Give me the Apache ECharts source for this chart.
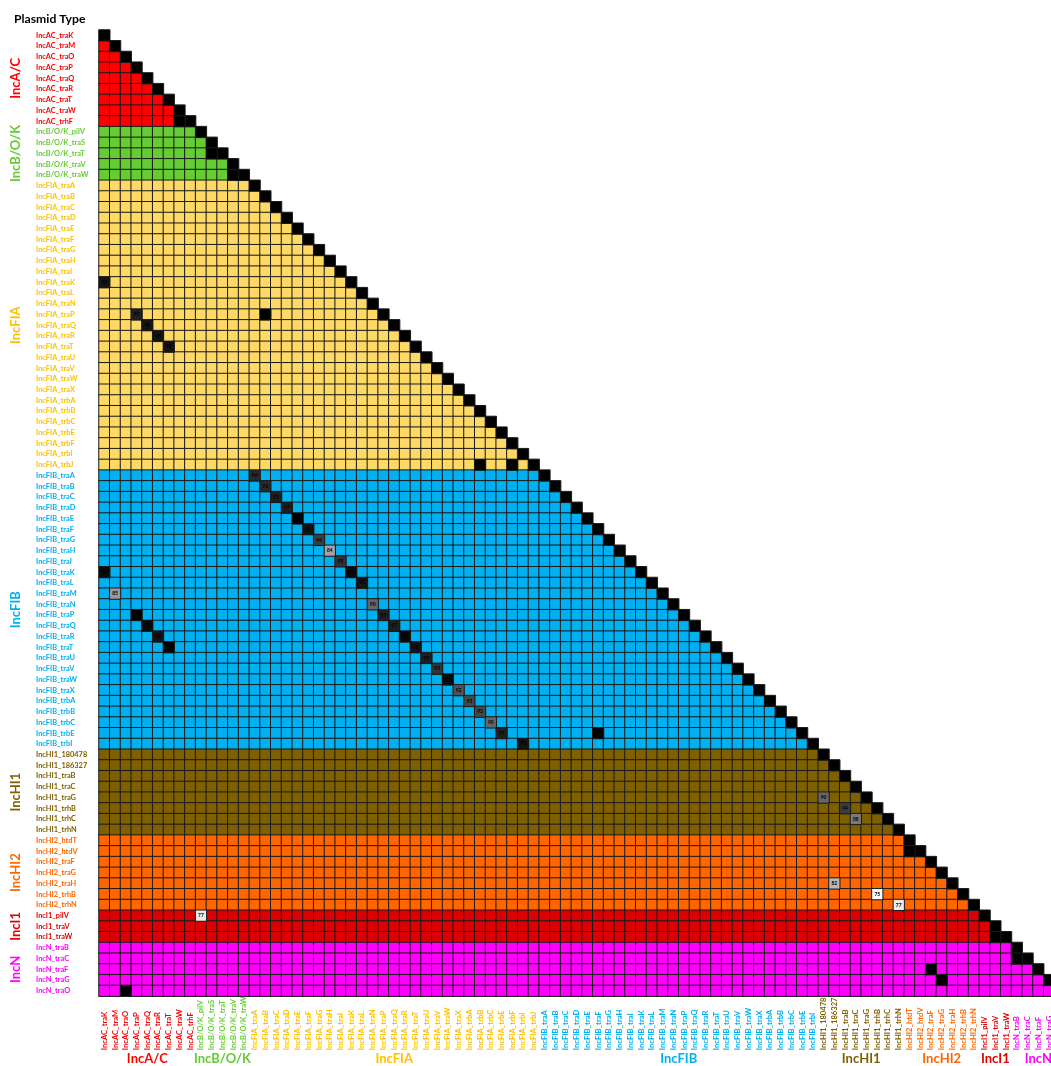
<!DOCTYPE html>
<html><head><meta charset="utf-8">
<script src="https://cdn.jsdelivr.net/npm/echarts@6/dist/echarts.min.js"></script>
<style>html,body{margin:0;padding:0;background:#fff}#c{width:1051px;height:1066px}</style>
</head><body><div id="c"></div>
<script>
// ---------------- data ----------------
const categories = [
  'IncAC_traK','IncAC_traM','IncAC_traO','IncAC_traP','IncAC_traQ','IncAC_traR','IncAC_traT','IncAC_traW','IncAC_trhF',
  'IncB/O/K_pilV','IncB/O/K_traS','IncB/O/K_traT','IncB/O/K_traV','IncB/O/K_traW',
  'IncFIA_traA','IncFIA_traB','IncFIA_traC','IncFIA_traD','IncFIA_traE','IncFIA_traF','IncFIA_traG','IncFIA_traH','IncFIA_traI',
  'IncFIA_traK','IncFIA_traL','IncFIA_traN','IncFIA_traP','IncFIA_traQ','IncFIA_traR','IncFIA_traT','IncFIA_traU','IncFIA_traV',
  'IncFIA_traW','IncFIA_traX','IncFIA_trbA','IncFIA_trbB','IncFIA_trbC','IncFIA_trbE','IncFIA_trbF','IncFIA_trbI','IncFIA_trbJ',
  'IncFIB_traA','IncFIB_traB','IncFIB_traC','IncFIB_traD','IncFIB_traE','IncFIB_traF','IncFIB_traG','IncFIB_traH','IncFIB_traI',
  'IncFIB_traK','IncFIB_traL','IncFIB_traM','IncFIB_traN','IncFIB_traP','IncFIB_traQ','IncFIB_traR','IncFIB_traT','IncFIB_traU',
  'IncFIB_traV','IncFIB_traW','IncFIB_traX','IncFIB_trbA','IncFIB_trbB','IncFIB_trbC','IncFIB_trbE','IncFIB_trbI',
  'IncHI1_180478','IncHI1_186327','IncHI1_traB','IncHI1_traC','IncHI1_traG','IncHI1_trhB','IncHI1_trhC','IncHI1_trhN',
  'IncHI2_htdT','IncHI2_htdV','IncHI2_traF','IncHI2_traG','IncHI2_traH','IncHI2_trhB','IncHI2_trhN',
  'IncI1_pilV','IncI1_traV','IncI1_traW',
  'IncN_traB','IncN_traC','IncN_traF','IncN_traG','IncN_traO'
];
const groupNames = ['IncA/C','IncB/O/K','IncFIA','IncFIB','IncHI1','IncHI2','IncI1','IncN'];
const groupSizes = [9, 5, 27, 26, 8, 7, 3, 5];
const diagonalValue = 100;
// [row gene, column gene, identity %]
const specialCells = [
  ['IncAC_trhF','IncAC_traW',100],
  ['IncB/O/K_traT','IncB/O/K_traS',100],
  ['IncB/O/K_traW','IncB/O/K_traV',100],
  ['IncFIA_traK','IncAC_traK',98],
  ['IncFIA_traP','IncAC_traP',97],
  ['IncFIA_traQ','IncAC_traQ',98],
  ['IncFIA_traR','IncAC_traR',98],
  ['IncFIA_traT','IncAC_traT',98],
  ['IncFIA_traP','IncFIA_traB',100],
  ['IncFIA_trbJ','IncFIA_trbB',100],
  ['IncFIA_trbJ','IncFIA_trbF',100],
  ['IncFIB_traA','IncFIA_traA',96],
  ['IncFIB_traB','IncFIA_traB',96],
  ['IncFIB_traC','IncFIA_traC',97],
  ['IncFIB_traD','IncFIA_traD',97],
  ['IncFIB_traE','IncFIA_traE',100],
  ['IncFIB_traF','IncFIA_traF',98],
  ['IncFIB_traG','IncFIA_traG',94],
  ['IncFIB_traH','IncFIA_traH',84],
  ['IncFIB_traI','IncFIA_traI',95],
  ['IncFIB_traK','IncFIA_traK',99],
  ['IncFIB_traL','IncFIA_traL',98],
  ['IncFIB_traK','IncAC_traK',99],
  ['IncFIB_traM','IncAC_traM',85],
  ['IncFIB_traN','IncFIA_traN',90],
  ['IncFIB_traP','IncAC_traP',100],
  ['IncFIB_traP','IncFIA_traP',97],
  ['IncFIB_traQ','IncAC_traQ',99],
  ['IncFIB_traQ','IncFIA_traQ',97],
  ['IncFIB_traR','IncAC_traR',98],
  ['IncFIB_traR','IncFIA_traR',99],
  ['IncFIB_traT','IncAC_traT',100],
  ['IncFIB_traT','IncFIA_traT',98],
  ['IncFIB_traU','IncFIA_traU',97],
  ['IncFIB_traV','IncFIA_traV',95],
  ['IncFIB_traW','IncFIA_traW',99],
  ['IncFIB_traX','IncFIA_traX',92],
  ['IncFIB_trbA','IncFIA_trbA',93],
  ['IncFIB_trbB','IncFIA_trbB',93],
  ['IncFIB_trbC','IncFIA_trbC',90],
  ['IncFIB_trbE','IncFIA_trbE',97],
  ['IncFIB_trbI','IncFIA_trbI',98],
  ['IncFIB_trbE','IncFIB_traF',100],
  ['IncHI1_traG','IncHI1_180478',90],
  ['IncHI1_trhB','IncHI1_traB',94],
  ['IncHI1_trhC','IncHI1_traC',88],
  ['IncHI2_htdV','IncHI2_htdT',100],
  ['IncHI2_traH','IncHI1_186327',82],
  ['IncHI2_trhB','IncHI1_trhB',75],
  ['IncHI2_trhN','IncHI1_trhN',77],
  ['IncI1_pilV','IncB/O/K_pilV',77],
  ['IncI1_traW','IncI1_traV',100],
  ['IncN_traC','IncN_traB',100],
  ['IncN_traF','IncHI2_traF',100],
  ['IncN_traG','IncHI2_traG',100],
  ['IncN_traO','IncAC_traO',100]
];

// ---------------- style ----------------
const FILL = ['#FF0000','#66CC33','#FFD966','#00B0F0','#7F6000','#FF6600','#DD0000','#FF00FF'];
const TEXT = ['#FF0000','#66CC33','#FFC000','#00B0F0','#7F6000','#FF6600','#E00000','#FF00FF'];
const FONT = 'Lato, "Liberation Sans", Arial, sans-serif';
const GRID_LEFT = 99, GRID_TOP = 30, CELL = 10.735;
const N = categories.length;
const GRID_SIZE = CELL * N;

// ---------------- build ----------------
const groupOf = [];
groupSizes.forEach((n, g) => { for (let k = 0; k < n; k++) groupOf.push(g); });
const idx = name => categories.indexOf(name);

const specialKey = new Set();
const specialData = [];
for (let i = 0; i < N; i++) { specialData.push([i, i, diagonalValue]); specialKey.add(i + ',' + i); }
specialCells.forEach(([r, c, v]) => {
  const ri = idx(r), ci = idx(c);
  specialData.push([ci, ri, v]);
  specialKey.add(ci + ',' + ri);
});
const bgData = [];
for (let i = 0; i < N; i++) {
  for (let j = 0; j < i; j++) {
    if (!specialKey.has(j + ',' + i)) bgData.push([j, i, groupOf[i]]);
  }
}
const labelColor = v => { const k = idx(v); return TEXT[groupOf[k >= 0 ? k : 0]]; };

// group labels
const graphics = [{
  type: 'text', left: 14, top: 13,
  style: { text: 'Plasmid Type', fill: '#000', font: 'bold 12.2px ' + FONT }
}];
let start = 0;
groupNames.forEach((name, g) => {
  const center = (start + groupSizes[g] / 2) * CELL;
  graphics.push({
    type: 'text', x: 16, y: GRID_TOP + center, rotation: Math.PI / 2,
    style: { text: name, fill: TEXT[g], font: 'bold 13px ' + FONT, align: 'center', verticalAlign: 'middle' }
  });
  graphics.push({
    type: 'text', x: GRID_LEFT + center, y: 1059,
    style: { text: name, fill: TEXT[g], font: 'bold 13px ' + FONT, align: 'center', verticalAlign: 'middle' }
  });
  start += groupSizes[g];
});

const chart = echarts.init(document.getElementById('c'), null, { renderer: 'canvas' });
chart.setOption({
  animation: false,
  backgroundColor: '#fff',
  grid: { left: GRID_LEFT, top: GRID_TOP, width: GRID_SIZE, height: GRID_SIZE,
          containLabel: false, outerBoundsMode: 'none' },
  xAxis: {
    type: 'category', data: categories, position: 'bottom',
    axisTick: { show: false }, splitLine: { show: false },
    axisLine: { show: true, lineStyle: { color: '#9a9a9a', width: 1 } },
    axisLabel: {
      interval: 0, rotate: 90, align: 'left', verticalAlign: 'middle', margin: 54,
      fontSize: 7.6, fontWeight: 'bold', fontFamily: FONT, color: labelColor, hideOverlap: false
    }
  },
  yAxis: {
    type: 'category', data: categories, inverse: true,
    axisTick: { show: false }, splitLine: { show: false },
    axisLine: { show: true, lineStyle: { color: '#9a9a9a', width: 1 } },
    axisLabel: {
      interval: 0, align: 'left', margin: 63,
      fontSize: 7.4, fontWeight: 'bold', fontFamily: FONT, color: labelColor, hideOverlap: false
    }
  },
  visualMap: [
    { type: 'piecewise', show: false, seriesIndex: 0, dimension: 2,
      pieces: FILL.map((c, g) => ({ value: g, color: c })) },
    { type: 'continuous', show: false, seriesIndex: 1, dimension: 2, min: 75, max: 100,
      inRange: { color: ['#ffffff', '#000000'] } }
  ],
  series: [
    { type: 'heatmap', data: bgData, silent: true,
      itemStyle: { borderColor: '#1a1a1a', borderWidth: 1 }, emphasis: { disabled: true } },
    { type: 'heatmap', data: specialData, silent: true,
      itemStyle: { borderColor: '#1a1a1a', borderWidth: 1 }, emphasis: { disabled: true },
      label: { show: true, fontSize: 5, fontWeight: 'bold', color: '#000', fontFamily: FONT,
        formatter: p => (p.value[2] < 100 ? String(p.value[2]) : '') } }
  ],
  graphic: graphics
});
</script>
</body></html>
